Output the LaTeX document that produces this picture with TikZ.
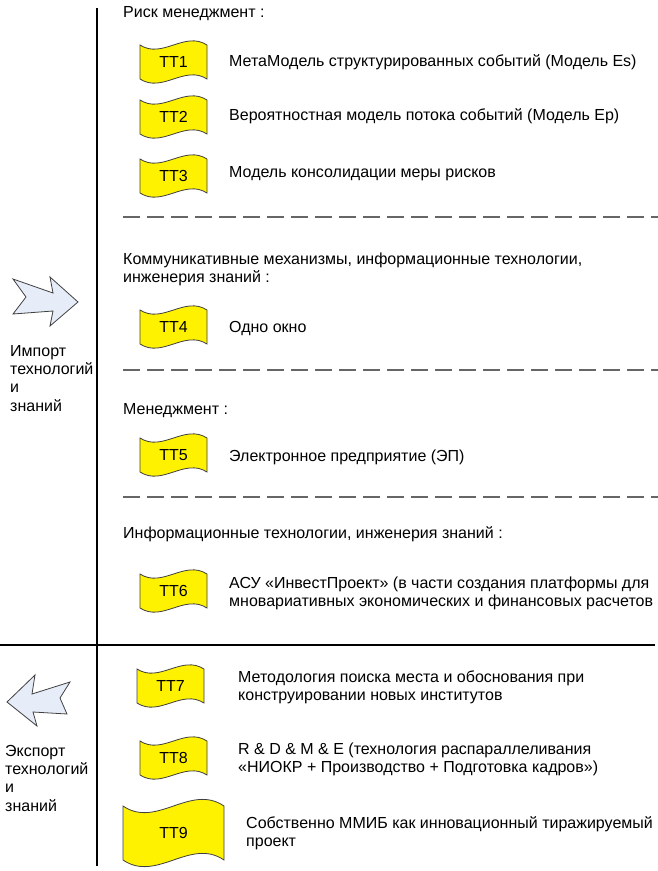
\documentclass[tikz,border=0pt]{standalone}
\usepackage{fontspec}
\setmainfont{Liberation Sans}
\definecolor{arrowfill}{RGB}{230,237,248}
\newcommand\ml[1]{\begin{tabular}[t]{@{}l@{}}#1\end{tabular}}
\tikzset{
  tapefill/.style={fill=yellow, draw=black!75, line width=0.8pt},
  lbl/.style={inner sep=0pt, anchor=base west, font=\fontsize{16}{18.4}\selectfont},
  ttl/.style={inner sep=0pt, font=\fontsize{16}{18.4}\selectfont},
  sepline/.style={draw=black!60, line width=1.3pt, dash pattern=on 17pt off 7pt},
  axisline/.style={line width=2.6pt, black},
  blockarrow/.style={fill=arrowfill, draw=black!75, line width=0.8pt, line join=miter}
}
\newcommand\ttape[6]{%
  \begin{scope}[shift={(#2,#3)}]
    \pgfmathsetmacro\tka{#4/3}
    \pgfmathsetmacro\tkk{0.85*#5}
    \draw[tapefill] (-#4,-#5) .. controls (-\tka,-#5+\tkk) and (\tka,-#5-\tkk) .. (#4,-#5)
      -- (#4,#5) .. controls (\tka,#5-\tkk) and (-\tka,#5+\tkk) .. (-#4,#5) -- cycle;
  \end{scope}
  \node[ttl] (#1) at (#2,#3) {#6};}
\begin{document}
\begin{tikzpicture}[x=1pt,y=-1pt]
\path[use as bounding box] (0,0) rectangle (658,871);
% axes
\draw[axisline] (97,8) -- (97,866);
\draw[axisline] (0,645) -- (655,645);
% dashed separators
\draw[sepline] (123,217) -- (658,217);
\draw[sepline] (123,370) -- (658,370);
\draw[sepline] (123,497) -- (658,497);
% arrows
\draw[blockarrow] (13,279) -- (53,293) -- (50,277) -- (78,302) -- (50,326) -- (53,311) -- (13,314) -- (26,297) -- cycle;
\draw[blockarrow] (7,702) -- (35,675) -- (32,694) -- (70,682) -- (60,698) -- (67,714) -- (33,712) -- (37,726) -- cycle;
\node[lbl] (imp) at (10,356) {\ml{Импорт\\технологий\\и\\знаний}};
\node[lbl] (exp) at (5,756) {\ml{Экспорт\\технологий\\и\\знаний}};
% headings
\node[lbl] (h1) at (123,17.5) {Риск менеджмент :};
\node[lbl] (h2) at (123,264.5) {\ml{Коммуникативные механизмы, информационные технологии,\\инженерия знаний :}};
\node[lbl] (h3) at (123,414.5) {Менеджмент :};
\node[lbl] (h4) at (123,538.5) {Информационные технологии, инженерия знаний :};
% tapes
\ttape{t1}{173.5}{62}{33.5}{17}{TT1}
\ttape{t2}{173.5}{117}{33.5}{17}{TT2}
\ttape{t3}{173.5}{176}{33.5}{17}{TT3}
\ttape{t4}{173.5}{327}{33.5}{17}{TT4}
\ttape{t5}{173.5}{455}{33.5}{17}{TT5}
\ttape{t6}{173.5}{591}{33.5}{17}{TT6}
\ttape{t7}{170.5}{686}{33.5}{17}{TT7}
\ttape{t8}{173.5}{758}{33.5}{17}{TT8}
\ttape{t9}{173.5}{833}{50.5}{27}{TT9}
% descriptions
\node[lbl] (d1) at (229,66.5) {МетаМодель структурированных событий (Модель Es)};
\node[lbl] (d2) at (229,120) {Вероятностная модель потока событий (Модель Ep)};
\node[lbl] (d3) at (229,177.5) {Модель консолидации меры рисков};
\node[lbl] (d4) at (229,332.5) {Одно окно};
\node[lbl] (d5) at (229,461.5) {Электронное предприятие (ЭП)};
\node[lbl] (d6) at (229,588) {\ml{АСУ «ИнвестПроект» (в части создания платформы для\\мновариативных экономических и финансовых расчетов}};
\node[lbl] (d7) at (238,682.5) {\ml{Методология поиска места и обоснования при\\конструировании новых институтов}};
\node[lbl] (d8) at (238,754.5) {\ml{R \& D \& M \& E (технология распараллеливания\\«НИОКР + Производство + Подготовка кадров»)}};
\node[lbl] (d9) at (246,828.5) {\ml{Собственно ММИБ как инновационный тиражируемый\\проект}};
\end{tikzpicture}
\end{document}
